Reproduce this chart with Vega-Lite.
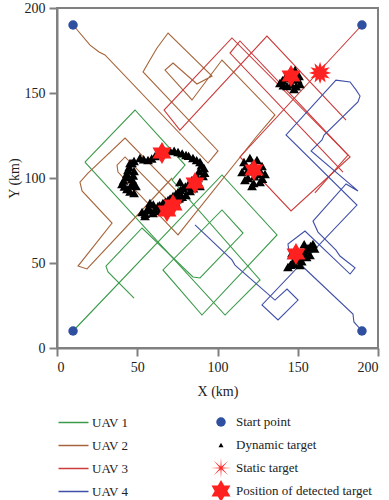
{
"$schema": "https://vega.github.io/schema/vega-lite/v6.json",
"width": 321, "height": 340,
"autosize": {"type": "none"},
"padding": {"left": 57, "top": 8, "right": 11, "bottom": 152},
"config": {
  "font": "Liberation Serif",
  "view": {"stroke": "#808080", "strokeWidth": 2},
  "axis": {"grid": false, "domainColor": "#808080", "domainWidth": 2, "tickColor": "#808080", "tickWidth": 2, "tickSize": 8,
    "labelFont": "Liberation Serif", "labelFontSize": 14, "labelColor": "#222222", "labelPadding": 4,
    "titleFont": "Liberation Serif", "titleFontSize": 14, "titleFontWeight": "normal", "titleColor": "#222222"},
  "legend": {"labelFont": "Liberation Serif", "labelFontSize": 13, "labelColor": "#222222", "padding": 0}
},
"datasets": {
  "paths": [
    {"uav":"UAV 1","seg":"g1","x":10,"y":10},{"uav":"UAV 1","seg":"g1","x":102.8,"y":101.8},{"uav":"UAV 1","seg":"g1","x":137.1,"y":66.5},{"uav":"UAV 1","seg":"g1","x":90.3,"y":19.4},{"uav":"UAV 1","seg":"g1","x":66.0,"y":45.9},{"uav":"UAV 1","seg":"g1","x":102.8,"y":81.2},{"uav":"UAV 1","seg":"g1","x":115.9,"y":67.6},{"uav":"UAV 1","seg":"g1","x":89.1,"y":41.2},{"uav":"UAV 1","seg":"g1","x":84.7,"y":41.8},{"uav":"UAV 1","seg":"g1","x":53.0,"y":70.6},{"uav":"UAV 1","seg":"g1","x":30.5,"y":48.2},{"uav":"UAV 1","seg":"g1","x":31.8,"y":44.7},{"uav":"UAV 1","seg":"g1","x":48.0,"y":29.4},
    {"uav":"UAV 1","seg":"g2","x":17.4,"y":109.4},{"uav":"UAV 1","seg":"g2","x":48.6,"y":140},{"uav":"UAV 1","seg":"g2","x":79.8,"y":107.6},{"uav":"UAV 1","seg":"g2","x":71.7,"y":98.8},{"uav":"UAV 1","seg":"g2","x":126.5,"y":40},{"uav":"UAV 1","seg":"g2","x":104.7,"y":19.4},{"uav":"UAV 1","seg":"g2","x":17.4,"y":109.4},
    {"uav":"UAV 2","seg":"b1","x":10,"y":190},{"uav":"UAV 2","seg":"b1","x":20.6,"y":178.2},{"uav":"UAV 2","seg":"b1","x":26.2,"y":174.1},{"uav":"UAV 2","seg":"b1","x":29.9,"y":172.4},{"uav":"UAV 2","seg":"b1","x":94.1,"y":108.8},{"uav":"UAV 2","seg":"b1","x":100.3,"y":115.9},{"uav":"UAV 2","seg":"b1","x":53.6,"y":162.4},{"uav":"UAV 2","seg":"b1","x":57.9,"y":169.4},{"uav":"UAV 2","seg":"b1","x":62.3,"y":176.5},{"uav":"UAV 2","seg":"b1","x":69.2,"y":185.3},{"uav":"UAV 2","seg":"b1","x":96.6,"y":160},{"uav":"UAV 2","seg":"b1","x":87.2,"y":155.3},{"uav":"UAV 2","seg":"b1","x":72.3,"y":167.6},{"uav":"UAV 2","seg":"b1","x":67.3,"y":163.5},{"uav":"UAV 2","seg":"b1","x":84.1,"y":145.9},{"uav":"UAV 2","seg":"b1","x":102.8,"y":169.4},{"uav":"UAV 2","seg":"b1","x":135.8,"y":137.1},{"uav":"UAV 2","seg":"b1","x":124.6,"y":124.7},{"uav":"UAV 2","seg":"b1","x":75.4,"y":66.5},{"uav":"UAV 2","seg":"b1","x":38.0,"y":103.5},{"uav":"UAV 2","seg":"b1","x":37.4,"y":107.6},{"uav":"UAV 2","seg":"b1","x":42.4,"y":112.4},{"uav":"UAV 2","seg":"b1","x":73.5,"y":82.4},{"uav":"UAV 2","seg":"b1","x":79.8,"y":87.1},{"uav":"UAV 2","seg":"b1","x":42.4,"y":123.5},{"uav":"UAV 2","seg":"b1","x":19.3,"y":102.9},{"uav":"UAV 2","seg":"b1","x":14.3,"y":97.6},{"uav":"UAV 2","seg":"b1","x":15.6,"y":92.4},{"uav":"UAV 2","seg":"b1","x":34.3,"y":73.5},{"uav":"UAV 2","seg":"b1","x":13.1,"y":48.2},{"uav":"UAV 2","seg":"b1","x":18.7,"y":46.5},{"uav":"UAV 2","seg":"b1","x":71.7,"y":100},
    {"uav":"UAV 3","seg":"r1","x":190,"y":190},{"uav":"UAV 3","seg":"r1","x":114.0,"y":112.4},{"uav":"UAV 3","seg":"r1","x":145.8,"y":80.6},{"uav":"UAV 3","seg":"r1","x":182.6,"y":112.4},{"uav":"UAV 3","seg":"r1","x":109.0,"y":182.4},{"uav":"UAV 3","seg":"r1","x":66.7,"y":140.0},{"uav":"UAV 3","seg":"r1","x":76.6,"y":128.2},{"uav":"UAV 3","seg":"r1","x":130.8,"y":183.5},{"uav":"UAV 3","seg":"r1","x":180.1,"y":134.1},
    {"uav":"UAV 3","seg":"r2","x":178.2,"y":103.5},{"uav":"UAV 3","seg":"r2","x":107.8,"y":173.5},{"uav":"UAV 3","seg":"r2","x":114.0,"y":180.6},{"uav":"UAV 3","seg":"r2","x":181.3,"y":113.5},{"uav":"UAV 3","seg":"r2","x":160.7,"y":91.2},
    {"uav":"UAV 4","seg":"u1","x":190,"y":10},{"uav":"UAV 4","seg":"u1","x":185,"y":15.3},{"uav":"UAV 4","seg":"u1","x":184.4,"y":20},{"uav":"UAV 4","seg":"u1","x":151.4,"y":49.4},{"uav":"UAV 4","seg":"u1","x":144.5,"y":57.1},{"uav":"UAV 4","seg":"u1","x":143.9,"y":61.2},{"uav":"UAV 4","seg":"u1","x":154.5,"y":68.8},{"uav":"UAV 4","seg":"u1","x":182.6,"y":43.5},{"uav":"UAV 4","seg":"u1","x":185.7,"y":47.1},{"uav":"UAV 4","seg":"u1","x":176.3,"y":54.1},{"uav":"UAV 4","seg":"u1","x":173.8,"y":57.6},{"uav":"UAV 4","seg":"u1","x":162.6,"y":68.2},{"uav":"UAV 4","seg":"u1","x":159.5,"y":74.7},{"uav":"UAV 4","seg":"u1","x":180.1,"y":96.5},{"uav":"UAV 4","seg":"u1","x":187.5,"y":92.4},{"uav":"UAV 4","seg":"u1","x":158.3,"y":115.9},{"uav":"UAV 4","seg":"u1","x":165.1,"y":122.4},{"uav":"UAV 4","seg":"u1","x":166.4,"y":125.3},{"uav":"UAV 4","seg":"u1","x":187.5,"y":144.7},{"uav":"UAV 4","seg":"u1","x":188.8,"y":148.2},{"uav":"UAV 4","seg":"u1","x":186.3,"y":151.8},{"uav":"UAV 4","seg":"u1","x":182.6,"y":156.5},{"uav":"UAV 4","seg":"u1","x":173.8,"y":157.6},{"uav":"UAV 4","seg":"u1","x":142.7,"y":125.3},{"uav":"UAV 4","seg":"u1","x":186.9,"y":84.1},{"uav":"UAV 4","seg":"u1","x":127.7,"y":25.3},{"uav":"UAV 4","seg":"u1","x":137.7,"y":16.5},{"uav":"UAV 4","seg":"u1","x":150.2,"y":28.2},{"uav":"UAV 4","seg":"u1","x":143.3,"y":34.7},{"uav":"UAV 4","seg":"u1","x":135.8,"y":28.2},{"uav":"UAV 4","seg":"u1","x":110.9,"y":48.8},{"uav":"UAV 4","seg":"u1","x":109,"y":51.8},{"uav":"UAV 4","seg":"u1","x":86,"y":72.4}
  ],
  "dynamic": [
    {"x":45.5,"y":108.8},{"x":51.7,"y":111.8},{"x":56.7,"y":110.6},{"x":61.1,"y":112.9},{"x":70.4,"y":115.9},{"x":75.4,"y":115.3},{"x":80.4,"y":113.5},{"x":84.7,"y":111.8},{"x":89.1,"y":109.4},{"x":91.6,"y":105.9},{"x":91,"y":101.2},
    {"x":48,"y":110},{"x":54,"y":111},{"x":59,"y":111.5},{"x":63,"y":114},{"x":67,"y":116},{"x":73,"y":116},{"x":78,"y":114.5},{"x":82,"y":113},{"x":87,"y":110.5},{"x":90,"y":107.5},{"x":92,"y":103},{"x":88.5,"y":104},
    {"x":46.7,"y":108.8},{"x":44.2,"y":104.7},{"x":43.0,"y":100.6},{"x":40.5,"y":96.5},{"x":43.6,"y":93.5},{"x":48.0,"y":91.2},{"x":49.2,"y":95.3},{"x":46.7,"y":99.4},{"x":48.0,"y":104.1},
    {"x":45,"y":106.5},{"x":43.5,"y":102.5},{"x":41.5,"y":98.5},{"x":42,"y":95},{"x":45.5,"y":92},{"x":47.5,"y":97},{"x":47.5,"y":101.5},{"x":46,"y":95.5},
    {"x":53.0,"y":80.0},{"x":56.7,"y":82.4},{"x":59.8,"y":79.4},{"x":62.9,"y":83.5},{"x":66.0,"y":85.3},{"x":69.2,"y":87.1},{"x":72.3,"y":89.4},{"x":75.4,"y":91.8},{"x":78.5,"y":94.1},{"x":81.6,"y":95.9},{"x":84.1,"y":98.8},{"x":87.9,"y":100},{"x":89.1,"y":95.3},{"x":80.4,"y":90.0},{"x":74.1,"y":85.3},{"x":67.9,"y":81.8},{"x":57.9,"y":85.3},{"x":76.6,"y":97.6},{"x":82.9,"y":92.4},{"x":54.8,"y":77.6},
    {"x":55,"y":79},{"x":58,"y":81},{"x":61,"y":81.5},{"x":64,"y":84},{"x":67.5,"y":86},{"x":70.5,"y":88},{"x":74,"y":90.5},{"x":77,"y":93},{"x":80,"y":95},{"x":83,"y":97},{"x":86,"y":99},{"x":88,"y":97.5},{"x":85,"y":94},{"x":78,"y":89},{"x":71,"y":84.5},{"x":64,"y":80.5},{"x":60,"y":84.5},{"x":72,"y":85},{"x":76,"y":88},{"x":70,"y":82.5},
    {"x":116.5,"y":109.4},{"x":120.2,"y":111.8},{"x":124.6,"y":110.6},{"x":127.7,"y":107.1},{"x":129.6,"y":102.4},{"x":126.5,"y":97.6},{"x":121.5,"y":95.3},{"x":117.1,"y":98.8},{"x":119.0,"y":104.7},{"x":125.2,"y":102.4},{"x":115.3,"y":103.5},
    {"x":118,"y":107},{"x":122,"y":108},{"x":126,"y":105},{"x":123,"y":101},{"x":119,"y":100},{"x":128,"y":99.5},{"x":122.5,"y":97},{"x":121,"y":104},
    {"x":138.9,"y":155.9},{"x":142.1,"y":158.8},{"x":145.2,"y":162.4},{"x":148.3,"y":163.5},{"x":150.8,"y":160},{"x":151.4,"y":155.3},{"x":147.7,"y":152.4},{"x":143.3,"y":154.1},
    {"x":140.5,"y":157.5},{"x":144,"y":161},{"x":147,"y":158},{"x":150,"y":158},{"x":146,"y":155},{"x":149,"y":154},{"x":141,"y":154.5},
    {"x":143.9,"y":47.6},{"x":147.0,"y":50.6},{"x":150.2,"y":52.9},{"x":153.3,"y":55.9},{"x":156.4,"y":58.8},{"x":159.5,"y":61.2},{"x":157.6,"y":54.7},{"x":151.4,"y":48.8},{"x":146.4,"y":55.9},
    {"x":145.5,"y":49},{"x":148.5,"y":51.8},{"x":151.8,"y":54.4},{"x":154.8,"y":57.3},{"x":158,"y":60},{"x":155.5,"y":53.5},{"x":152.5,"y":51},{"x":149,"y":54.5},{"x":148,"y":49.5},{"x":154,"y":61},{"x":160.5,"y":58.5}
  ],
  "targets": [
    {"type":"Start point","x":10,"y":10},{"type":"Start point","x":10,"y":190},{"type":"Start point","x":190,"y":190},{"type":"Start point","x":190,"y":10},
    {"type":"Static target","x":163.9,"y":161.8},
    {"type":"Position of detected target","x":65.4,"y":114.7},{"type":"Position of detected target","x":86.0,"y":97.1},{"type":"Position of detected target","x":72.3,"y":84.1},{"type":"Position of detected target","x":68.5,"y":80.6},{"type":"Position of detected target","x":122.7,"y":104.7},{"type":"Position of detected target","x":145.8,"y":160},{"type":"Position of detected target","x":148.9,"y":55.3}
  ]
},
"layer": [
  {
    "data": {"name": "paths"},
    "mark": {"type": "line", "strokeWidth": 1.1},
    "encoding": {
      "x": {"field": "x", "type": "quantitative", "scale": {"domain": [0, 200], "nice": false}, "axis": {"values": [0, 50, 100, 150, 200], "title": "X (km)", "titlePadding": 10}},
      "y": {"field": "y", "type": "quantitative", "scale": {"domain": [0, 200], "nice": false}, "axis": {"values": [0, 50, 100, 150, 200], "title": "Y (km)", "titlePadding": 3}},
      "color": {"field": "uav", "type": "nominal",
        "scale": {"domain": ["UAV 1", "UAV 2", "UAV 3", "UAV 4"], "range": ["#3a9a48", "#a6643a", "#cc3a3a", "#3f4fa8"]},
        "legend": {"orient": "none", "legendX": -5, "legendY": 408, "title": null, "symbolType": "M0,0L6,0", "symbolSize": 100, "symbolStrokeWidth": 1.5, "labelOffset": 27, "rowPadding": 9}},
      "detail": {"field": "seg"},
      "order": {"value": null}
    }
  },
  {
    "data": {"name": "dynamic"},
    "mark": {"type": "point", "shape": "triangle-up", "filled": true, "size": 95, "color": "#000000", "opacity": 1},
    "encoding": {
      "x": {"field": "x", "type": "quantitative"},
      "y": {"field": "y", "type": "quantitative"}
    }
  },
  {
    "data": {"name": "targets"},
    "transform": [{"filter": "datum.type === 'Static target'"}],
    "mark": {"type": "point", "shape": "M1,0L0.531,0.142L0.866,0.5L0.389,0.389L0.5,0.866L0.142,0.531L0,1L-0.142,0.531L-0.5,0.866L-0.389,0.389L-0.866,0.5L-0.531,0.142L-1,0L-0.531,-0.142L-0.866,-0.5L-0.389,-0.389L-0.5,-0.866L-0.142,-0.531L0,-1L0.142,-0.531L0.5,-0.866L0.389,-0.389L0.866,-0.5L0.531,-0.142Z", "filled": true, "size": 500, "color": "#ff2222", "opacity": 1},
    "encoding": {
      "x": {"field": "x", "type": "quantitative"},
      "y": {"field": "y", "type": "quantitative"}
    }
  },
  {
    "data": {"name": "targets"},
    "transform": [{"filter": "datum.type !== 'Static target'"}],
    "mark": {"type": "point", "filled": true, "opacity": 1},
    "encoding": {
      "x": {"field": "x", "type": "quantitative"},
      "y": {"field": "y", "type": "quantitative"},
      "color": {"field": "type", "type": "nominal",
        "scale": {"domain": ["Start point", "Dynamic target", "Static target", "Position of detected target"], "range": ["#2f4fa0", "#000000", "#ff2a2a", "#ff2020"]},
        "legend": {"orient": "none", "legendX": 152, "legendY": 403, "title": null, "labelOffset": 3, "rowPadding": 1, "clipHeight": 22, "symbolOpacity": 1,
          "encode": {"symbols": {"update": {
            "shape": {"signal": "datum.value === 'Start point' ? 'circle' : datum.value === 'Dynamic target' ? 'triangle-up' : datum.value === 'Static target' ? 'M1,0L0.139,0.057L0.707,0.707L0.057,0.139L0,1L-0.057,0.139L-0.707,0.707L-0.139,0.057L-1,0L-0.139,-0.057L-0.707,-0.707L-0.057,-0.139L0,-1L0.057,-0.139L0.707,-0.707L0.139,-0.057Z' : 'M0,-1L0.289,-0.5L0.866,-0.5L0.577,0L0.866,0.5L0.289,0.5L0,1L-0.289,0.5L-0.866,0.5L-0.577,0L-0.866,-0.5L-0.289,-0.5Z'"},
            "size": {"signal": "datum.value === 'Start point' ? 90 : datum.value === 'Dynamic target' ? 25 : datum.value === 'Static target' ? 420 : 480"}
          }}}}},
      "shape": {"field": "type", "type": "nominal", "legend": null,
        "scale": {"domain": ["Start point", "Dynamic target", "Static target", "Position of detected target"], "range": ["circle", "triangle-up", "M1,0L0.139,0.057L0.707,0.707L0.057,0.139L0,1L-0.057,0.139L-0.707,0.707L-0.139,0.057L-1,0L-0.139,-0.057L-0.707,-0.707L-0.057,-0.139L0,-1L0.057,-0.139L0.707,-0.707L0.139,-0.057Z", "M0,-1L0.289,-0.5L0.866,-0.5L0.577,0L0.866,0.5L0.289,0.5L0,1L-0.289,0.5L-0.866,0.5L-0.577,0L-0.866,-0.5L-0.289,-0.5Z"]}},
      "size": {"field": "type", "type": "nominal", "legend": null,
        "scale": {"type": "ordinal", "domain": ["Start point", "Dynamic target", "Static target", "Position of detected target"], "range": [90, 25, 420, 480]}}
    }
  }
],
"resolve": {"scale": {"color": "independent"}}
}
